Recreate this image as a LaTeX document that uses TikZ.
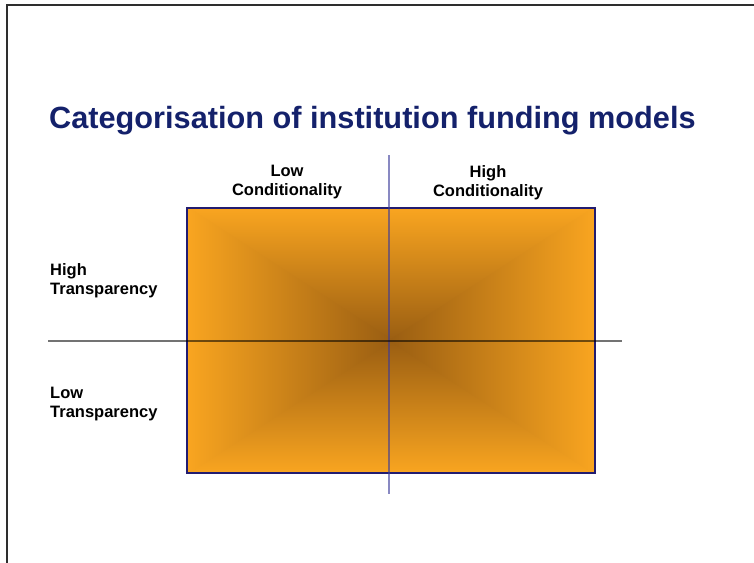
\documentclass[tikz,border=0pt]{standalone}
\usepackage{fontspec}
\setmainfont{Liberation Sans}
\definecolor{edgeorange}{HTML}{F9A520}
\definecolor{centerbrown}{HTML}{9A5E12}
\definecolor{titlenavy}{HTML}{14216B}
\definecolor{rectnavy}{HTML}{221C70}
\definecolor{vaxis}{HTML}{3A3A9A}
\definecolor{framegray}{HTML}{2E2E2E}
\begin{document}
\begin{tikzpicture}[x=1pt,y=-1pt,
  label/.style={inner sep=0pt,font=\bfseries\fontsize{16.5}{19}\selectfont,text=black},
  frameline/.style={draw=framegray,line width=2pt},
  haxisline/.style={draw=black,draw opacity=0.55,line width=2pt},
  vaxisline/.style={draw=vaxis,draw opacity=0.6,line width=2pt},
  boxedge/.style={draw=rectnavy,line width=1.1pt}]
\useasboundingbox (0,0) rectangle (754,562);
% frame
\coordinate (fbl) at (7,570);
\coordinate (ftl) at (7,5);
\coordinate (ftr) at (760,5);
\draw[frameline] (fbl) -- (ftl) -- (ftr);
% title
\node[anchor=base west,inner sep=0pt,font=\bfseries\fontsize{30.7}{36}\selectfont,text=titlenavy] (title) at (49,128) {Categorisation of institution funding models};
% shaded box
\coordinate (nw) at (187,208);
\coordinate (ne) at (595,208);
\coordinate (sw) at (187,473);
\coordinate (se) at (595,473);
\coordinate (c) at (391,340.5);
\shade[top color=edgeorange,bottom color=centerbrown] (nw) -- (ne) -- (c) -- cycle;
\shade[top color=centerbrown,bottom color=edgeorange] (sw) -- (se) -- (c) -- cycle;
\begin{scope}
  \clip (186,206) -- (186,475) -- (393,340.5) -- cycle;
  \shade[left color=edgeorange,right color=centerbrown] (187,208) rectangle (391,473);
\end{scope}
\begin{scope}
  \clip (596,206) -- (596,475) -- (389,340.5) -- cycle;
  \shade[left color=centerbrown,right color=edgeorange] (391,208) rectangle (595,473);
\end{scope}
\draw[boxedge] (nw) rectangle (se);
% axes
\coordinate (vtop) at (389,155);
\coordinate (vbot) at (389,494);
\coordinate (hleft) at (48,341);
\coordinate (hright) at (622,341);
\draw[vaxisline] (vtop) -- (vbot);
\draw[haxisline] (hleft) -- (hright);
% labels
\node[label,align=center,anchor=north] (lowc) at (287,165) {Low\\Conditionality};
\node[label,align=center,anchor=north] (highc) at (488,165) {High\\Conditionality};
\node[label,align=left,anchor=north west] (hight) at (50,263) {High\\Transparency};
\node[label,align=left,anchor=north west] (lowt) at (50,387) {Low\\Transparency};
\end{tikzpicture}
\end{document}
